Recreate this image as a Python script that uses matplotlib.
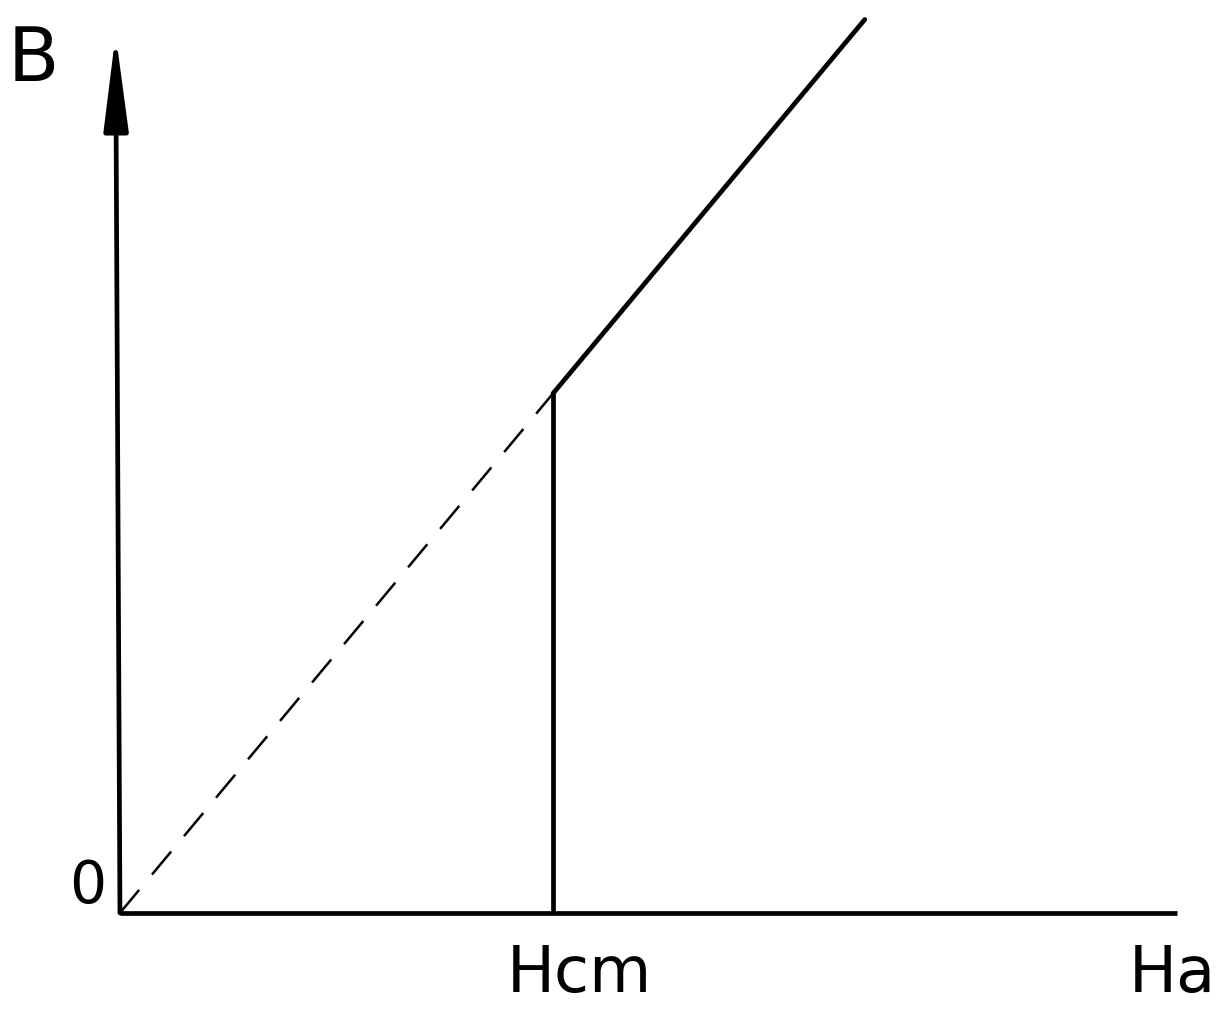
import matplotlib.pyplot as plt
import numpy as np

# B(H) for a type-I superconductor: B = 0 below Hcm, then B = mu0*H
h_cm = 1.0
mu = 1.2
h_top = 1.72
h_axis_end = 2.44
b_axis_end = 2.03

h_dash = [0.0, h_cm]
b_dash = [0.0, mu * h_cm]
h_jump = [h_cm, h_cm]
b_jump = [0.0, mu * h_cm]
h_normal = [h_cm, h_top]
b_normal = [mu * h_cm, mu * h_top]

fig = plt.figure(figsize=(12.32, 10.19), dpi=100)
ax = fig.add_axes([0, 0, 1, 1])
ax.set_xlim(-0.277, 2.568)
ax.set_ylim(-0.245, 2.109)
ax.axis('off')

lw = 3.4
# axes
ax.plot([0, h_axis_end], [0, 0], color='black', lw=lw, solid_capstyle='butt')
ax.annotate('', xy=(-0.01, b_axis_end), xytext=(0, 0),
            arrowprops=dict(arrowstyle='-|>,head_length=58,head_width=7.5',
                            mutation_scale=1, lw=lw, color='black',
                            shrinkA=0, shrinkB=0))

# extrapolated line through the origin
ax.plot(h_dash, b_dash, color='black', lw=1.8, dashes=(12, 8))
# jump at Hcm and normal state
ax.plot(h_jump, b_jump, color='black', lw=lw, solid_capstyle='butt')
ax.plot(h_normal, b_normal, color='black', lw=lw, solid_capstyle='round')

fam = ['DejaVu Sans Condensed', 'Liberation Sans Narrow', 'DejaVu Sans']
ax.text(-0.2, 1.97, 'B', fontsize=54, family=fam, ha='center', va='center')
ax.text(-0.075, 0.06, '0', fontsize=42, family=fam, ha='center', va='center')
ax.text(h_cm + 0.06, -0.14, 'Hcm', fontsize=46, family=fam, ha='center', va='center')
ax.text(2.43, -0.14, 'Ha', fontsize=46, family=fam, ha='center', va='center')

fig.savefig('out.png', dpi=100, facecolor='white')
